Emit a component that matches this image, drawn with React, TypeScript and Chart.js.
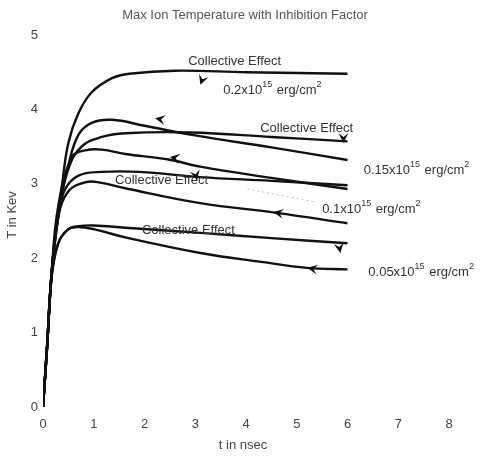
import React, { useEffect, useRef } from "react";
import { Chart, registerables } from "chart.js";

Chart.register(...registerables);

// Curves: [t (nsec), T (keV)]
const curve02Collective = [[0,0],[0.08,0.85],[0.17,1.8],[0.26,2.35],[0.37,2.95],[0.5,3.55],[0.7,3.95],[0.96,4.23],[1.36,4.42],[1.7,4.48],[2.6,4.52],[4,4.5],[6,4.48]];
const curve02 = [[0,0],[0.08,0.8],[0.17,1.8],[0.3,2.6],[0.5,3.25],[0.7,3.66],[0.96,3.82],[1.36,3.86],[2,3.78],[3,3.65],[4.5,3.49],[6,3.32]];
const curve015Collective = [[0,0],[0.08,0.8],[0.17,1.8],[0.3,2.6],[0.5,3.2],[0.76,3.5],[1.16,3.63],[1.62,3.68],[2.9,3.69],[4.5,3.63],[6,3.57]];
const curve015 = [[0,0],[0.08,0.8],[0.17,1.8],[0.3,2.7],[0.57,3.36],[0.83,3.45],[1.16,3.46],[1.62,3.4],[2.45,3.33],[3.1,3.23],[4.5,3.08],[6,2.93]];
const curve01Collective = [[0,0],[0.08,0.8],[0.17,1.8],[0.3,2.55],[0.43,2.92],[0.7,3.11],[1.16,3.16],[1.9,3.16],[3.1,3.09],[4.5,3.04],[6,2.98]];
const curve01 = [[0,0],[0.08,0.8],[0.17,1.8],[0.3,2.55],[0.5,2.9],[0.83,3.02],[1.1,3.02],[1.62,2.94],[3.1,2.74],[4.6,2.61],[6,2.47]];
const curve005Collective = [[0,0],[0.08,0.8],[0.17,1.75],[0.3,2.2],[0.5,2.39],[0.7,2.43],[1.0,2.44],[1.62,2.41],[3.1,2.34],[4.5,2.27],[6,2.2]];
const curve005 = [[0,0],[0.08,0.8],[0.17,1.75],[0.3,2.2],[0.5,2.39],[0.7,2.42],[1.0,2.39],[1.62,2.28],[3.1,2.07],[4.3,1.95],[5.2,1.87],[6,1.85]];

const guideLine = [[4.03,2.93],[5.33,2.76]];

// Arrowheads: [t, T, direction in degrees (screen, clockwise from +x)]
const arrows = [
  [3.1, 4.33, 110],
  [2.21, 3.88, 190],
  [5.92, 3.55, 90],
  [2.5, 3.36, 190],
  [3.04, 3.05, 75],
  [4.54, 2.62, 190],
  [5.86, 2.07, 80],
  [5.21, 1.87, 190],
];

const energies = ["0.2", "0.15", "0.1", "0.05"];
// Collective Effect label anchors [t, T] (left, middle)
const collectiveLabelPos = [[2.86, 4.64], [4.28, 3.74], [1.42, 3.05], [1.95, 2.38]];
// Energy label anchors [t, T]
const energyLabelPos = [[3.55, 4.26], [6.32, 3.18], [5.5, 2.65], [6.41, 1.81]];

const xTicksMax = 8;
const yTicksMax = 5;
const titleText = "Max Ion Temperature with Inhibition Factor";
const xTitle = "t in nsec";
const yTitle = "T in Kev";

const FONT = "'Liberation Sans', Arial, sans-serif";

const toXY = (arr: number[][]) => arr.map(([x, y]) => ({ x, y }));

const annotPlugin = {
  id: "annot",
  afterDatasetsDraw(chart: any) {
    const ctx = chart.ctx;
    const xs = chart.scales.x;
    const ys = chart.scales.y;
    ctx.save();
    // title
    ctx.fillStyle = "#555";
    ctx.font = `13px ${FONT}`;
    ctx.textAlign = "center";
    ctx.textBaseline = "middle";
    ctx.fillText(titleText, 245, 15);
    // axis titles
    ctx.fillStyle = "#444";
    ctx.fillText(xTitle, 243, 445);
    ctx.save();
    ctx.translate(12, 215);
    ctx.rotate(-Math.PI / 2);
    ctx.fillText(yTitle, 0, 0);
    ctx.restore();

    // collective labels
    ctx.textAlign = "left";
    ctx.fillStyle = "#333";
    collectiveLabelPos.forEach(([t, T]) => {
      ctx.fillText("Collective Effect", xs.getPixelForValue(t), ys.getPixelForValue(T));
    });
    // energy labels
    energyLabelPos.forEach(([t, T], i) => {
      let x = xs.getPixelForValue(t);
      const y = ys.getPixelForValue(T);
      const parts: [string, boolean][] = [[`${energies[i]}x10`, false], ["15", true], [" erg/cm", false], ["2", true]];
      parts.forEach(([txt, sup]) => {
        ctx.font = sup ? `9px ${FONT}` : `13px ${FONT}`;
        ctx.fillText(txt, x, sup ? y - 6 : y);
        x += ctx.measureText(txt).width + (sup ? 1 : 0);
      });
    });

    // arrowheads
    ctx.fillStyle = "#111";
    arrows.forEach(([t, T, a]) => {
      const x = xs.getPixelForValue(t);
      const y = ys.getPixelForValue(T);
      ctx.save();
      ctx.translate(x, y);
      ctx.rotate((a * Math.PI) / 180);
      ctx.beginPath();
      ctx.moveTo(0, 0);
      ctx.lineTo(-10, -5);
      ctx.lineTo(-6, 0);
      ctx.lineTo(-10, 5);
      ctx.closePath();
      ctx.fill();
      ctx.restore();
    });
    ctx.restore();
  },
};

export default function App() {
  const ref = useRef<HTMLCanvasElement>(null);
  useEffect(() => {
    if (!ref.current) return;
    const curves = [
      curve02Collective, curve02, curve015Collective, curve015,
      curve01Collective, curve01, curve005Collective, curve005,
    ];
    const datasets: any[] = curves.map((c) => ({
      data: toXY(c),
      borderColor: "#111",
      borderWidth: 2.4,
      pointRadius: 0,
      tension: 0.4,
      fill: false,
    }));
    datasets.push({
      data: toXY(guideLine),
      borderColor: "#bbb",
      borderWidth: 1,
      borderDash: [2, 3],
      pointRadius: 0,
      fill: false,
    });
    const chart = new Chart(ref.current, {
      type: "line",
      data: { datasets },
      options: {
        animation: false,
        responsive: true,
        maintainAspectRatio: false,
        layout: { padding: { top: 35, right: 47, left: 0, bottom: 0 } },
        plugins: { legend: { display: false }, tooltip: { enabled: false }, title: { display: false } },
        scales: {
          x: {
            type: "linear",
            min: 0,
            max: xTicksMax,
            ticks: { stepSize: 1, color: "#444", font: { family: FONT, size: 13 }, padding: 10, maxRotation: 0 },
            grid: { display: false, drawTicks: false },
            border: { display: false },
            afterFit: (s: any) => { s.height = 51; },
          },
          y: {
            type: "linear",
            min: 0,
            max: yTicksMax,
            ticks: { stepSize: 1, color: "#444", font: { family: FONT, size: 13 }, padding: 5 },
            grid: { display: false, drawTicks: false },
            border: { display: false },
            afterFit: (s: any) => { s.width = 43; },
          },
        },
      },
      plugins: [annotPlugin],
    });
    return () => chart.destroy();
  }, []);
  return (
    <div style={{ position: "fixed", left: 0, top: 0, width: 496, height: 458, background: "#fff" }}>
      <canvas ref={ref} />
    </div>
  );
}
